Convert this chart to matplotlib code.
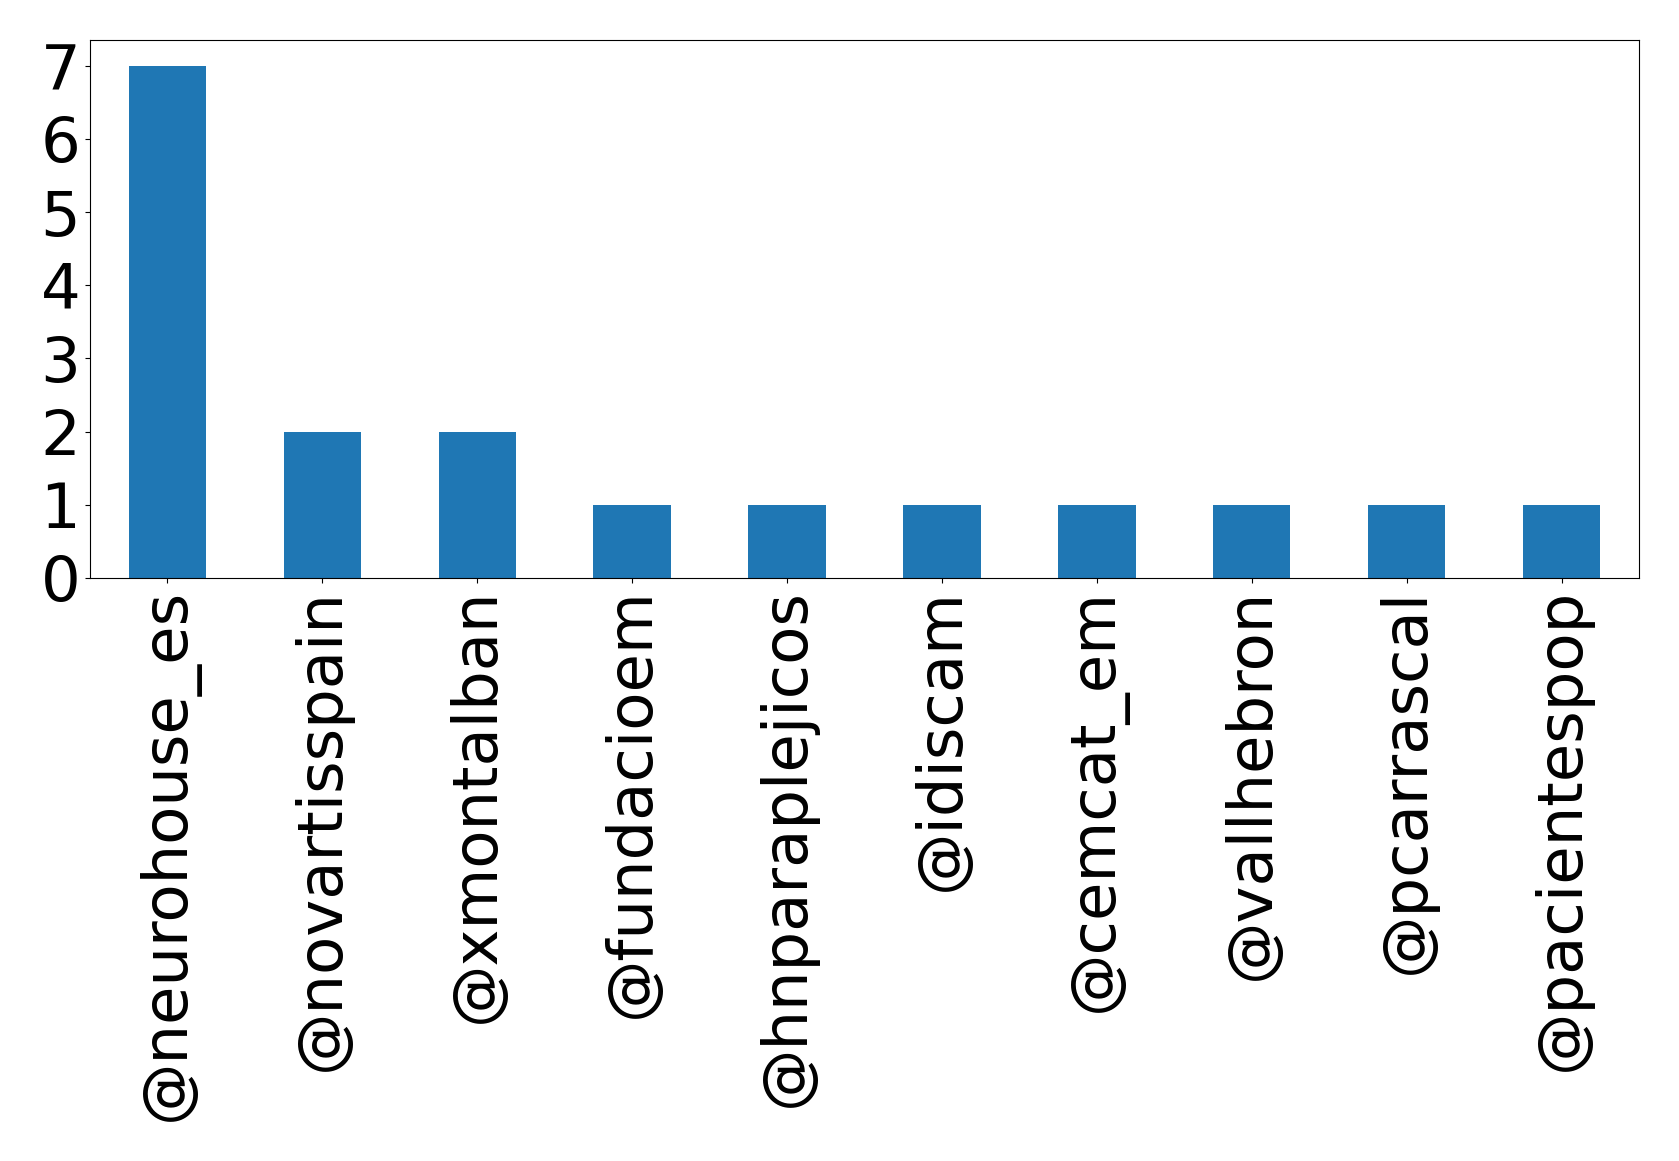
import matplotlib
matplotlib.use("Agg")
import matplotlib.pyplot as plt
import numpy as np

# DATA
usuarios = ["@neurohouse_es", "@novartisspain", "@xmontalban", "@fundacioem",
            "@hnparaplejicos", "@idiscam", "@cemcat_em", "@vallhebron",
            "@pcarrascal", "@pacientespop"]
menciones = [7, 2, 2, 1, 1, 1, 1, 1, 1, 1]


fig = plt.figure(figsize=(16.79, 11.61), dpi=100)
ax = fig.add_axes([90 / 1679, 1 - 578 / 1161, (1639 - 90) / 1679, (578 - 40) / 1161])

x = np.arange(len(usuarios))
ax.bar(x, menciones, width=0.5, color="#1f77b4")
ax.set_xlim(-0.5, len(usuarios) - 0.5)
ax.set_ylim(0, max(menciones) * 1.05)
ax.set_xticks(x)
ax.set_xticklabels(usuarios, rotation=90, fontsize=45)
ax.set_yticks(range(0, 8))
ax.tick_params(axis="y", labelsize=45)

fig.savefig("out.png", dpi=100)
